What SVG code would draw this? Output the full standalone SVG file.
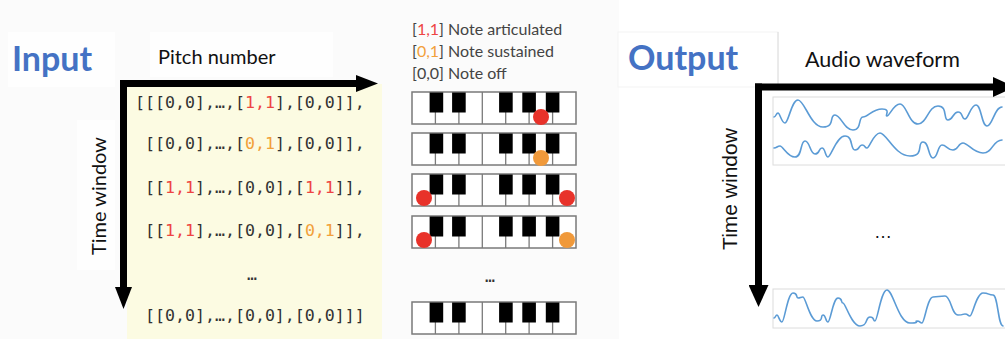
<svg xmlns="http://www.w3.org/2000/svg" width="1005" height="339" viewBox="0 0 1005 339">
<style>
.title{font-family:Lato,"Open Sans",sans-serif;font-weight:bold;font-size:34px;fill:#4472c4}
.axis{font-family:Lato,"Open Sans",sans-serif;font-size:20px;fill:#111}
.mono{font-family:"DejaVu Sans Mono","Liberation Mono",monospace;font-size:16.6px;fill:#333}
.legend{font-family:Lato,"Open Sans",sans-serif;font-size:16px;fill:#444}
.r{fill:#ee4444}
.o{fill:#f2a03a}
.wave{fill:none;stroke:#5b9bd5;stroke-width:1.6;stroke-linejoin:round;stroke-linecap:round}
.wbox{fill:#fff;stroke:#dcdcdc;stroke-width:1}
.arrow{fill:none;stroke:#000;stroke-width:7}
.dotR{fill:#e8322a}
.dotO{fill:#f0993a}
</style>
<defs>
<marker id="headS" markerUnits="userSpaceOnUse" markerWidth="22" markerHeight="17" viewBox="0 0 22 17" refX="1" refY="8.5" orient="auto"><path d="M0,0 L22,8.5 L0,17 Z" fill="#000"/></marker>
<marker id="headL" markerUnits="userSpaceOnUse" markerWidth="22" markerHeight="20" viewBox="0 0 22 20" refX="1" refY="10" orient="auto"><path d="M0,0 L22,10 L0,20 Z" fill="#000"/></marker>
<g id="piano">
<rect x="0" y="0" width="164" height="32" fill="#fff" stroke="#7a7a7a" stroke-width="1.5"/>
<g stroke="#7a7a7a" stroke-width="1.3">
<line x1="23.4" y1="20" x2="23.4" y2="32"/>
<line x1="46.9" y1="20" x2="46.9" y2="32"/>
<line x1="70.3" y1="0" x2="70.3" y2="32"/>
<line x1="93.7" y1="20" x2="93.7" y2="32"/>
<line x1="117.1" y1="20" x2="117.1" y2="32"/>
<line x1="140.6" y1="20" x2="140.6" y2="32"/>
</g>
<g fill="#000">
<rect x="17.6" y="0.5" width="13.6" height="20"/>
<rect x="40.1" y="0.5" width="13.6" height="20"/>
<rect x="87.1" y="0.5" width="13.6" height="20"/>
<rect x="110.3" y="0.5" width="13.6" height="20"/>
<rect x="133.8" y="0.5" width="13.6" height="20"/>
</g>
</g>
</defs>

<g id="background">
<rect x="0" y="0" width="1005" height="339" fill="#fff"/>
<rect x="0" y="0" width="619" height="339" fill="#fbfbfb"/>
<rect x="8" y="32" width="107" height="55" fill="#fefefe"/>
<rect x="150" y="32" width="183" height="45" fill="#fefefe"/>
<rect x="77" y="120" width="38" height="150" fill="#fefefe"/>
<rect x="618" y="32" width="160" height="55" fill="#fff" stroke="#f3f3f3"/>
<line x1="778" y1="32" x2="778" y2="84" stroke="#dcdcdc"/>
<rect x="127" y="84" width="255" height="255" fill="#fcfbe2"/>
</g>

<g id="input-title"><text class="title" x="12" y="71">Input</text></g>
<g id="pitch-label"><text class="axis" x="158" y="64">Pitch number</text></g>
<g id="time-label-in"><text class="axis" text-anchor="middle" transform="translate(106,196) rotate(-90)">Time window</text></g>

<g id="matrix">
<text class="mono" x="135" y="108">[[[0,0],…,[<tspan class="r">1,1</tspan>],[0,0]],</text>
<text class="mono" x="145" y="149">[[0,0],…,[<tspan class="o">0,1</tspan>],[0,0]],</text>
<text class="mono" x="145" y="193">[[<tspan class="r">1,1</tspan>],…,[0,0],[<tspan class="r">1,1</tspan>]],</text>
<text class="mono" x="145" y="236">[[<tspan class="r">1,1</tspan>],…,[0,0],[<tspan class="o">0,1</tspan>]],</text>
<text class="mono" x="252" y="280" text-anchor="middle">…</text>
<text class="mono" x="145" y="321">[[0,0],…,[0,0],[0,0]]]</text>
</g>

<g id="legend">
<text class="legend" x="412" y="35">[<tspan class="r">1,1</tspan>] Note articulated</text>
<text class="legend" x="412" y="57">[<tspan class="o">0,1</tspan>] Note sustained</text>
<text class="legend" x="412" y="79">[0,0] Note off</text>
</g>

<g id="piano1"><use href="#piano" x="412" y="92"/><circle class="dotR" cx="541" cy="117" r="8"/></g>
<g id="piano2"><use href="#piano" x="412" y="133"/><circle class="dotO" cx="541" cy="158" r="8"/></g>
<g id="piano3"><use href="#piano" x="412" y="174"/><circle class="dotR" cx="424" cy="198" r="8"/><circle class="dotR" cx="567" cy="198" r="8"/></g>
<g id="piano4"><use href="#piano" x="412" y="216"/><circle class="dotR" cx="424" cy="240" r="8"/><circle class="dotO" cx="567" cy="240" r="8"/></g>
<g id="piano-dots"><text class="mono" x="490" y="282" text-anchor="middle">…</text></g>
<g id="piano5"><use href="#piano" x="412" y="302"/></g>

<g id="output-title"><text class="title" x="628" y="70">Output</text></g>
<g id="audio-label"><text class="axis" x="805" y="67" style="font-size:21.5px">Audio waveform</text></g>
<g id="time-label-out"><text text-anchor="middle" transform="translate(737,189) rotate(-90)" style="font-family:'Liberation Sans',Arial,sans-serif;font-size:21px;fill:#111">Time window</text></g>

<g id="waveforms1">
<rect class="wbox" x="773" y="97" width="240" height="68"/>
<path class="wave" d="M774,117 C776,117 776,113 778,113 S781.5,123 785,123 S791.5,100 798,100 S810.5,127 823,127 S829,115 835,115 S844,130 853,130 S858,117 863,117 S872.5,109 882,109 S884.5,116 887,116 S893.5,104 900,104 S909,124 918,124 S928,106 938,106 S943,120 948,120 S953,112 958,112 S961.5,119 965,119 S970.5,105 976,105 S981.5,126 987,126 S994.5,107 1002,107"/>
<path class="wave" d="M774,148 C777,148 777,146 780,146 S787.5,157 795,157 S800,141 805,141 S810,154 815,154 S818.5,148 822,148 S825,157 828,157 S836.5,136 845,136 S850,150 855,150 S858.5,145 862,145 S864.5,148 867,148 S873.5,133 880,133 S895,156 910,156 S916.5,142 923,142 S928,158 933,158 S937.5,145 942,145 S947.5,150 953,150 S958,143 963,143 S973,153 983,153 S992.5,140 1002,140"/>
</g>
<g id="wave-dots"><text x="883" y="238" text-anchor="middle" style="font-family:'Liberation Sans',sans-serif;font-size:18px;fill:#111">…</text></g>
<g id="waveforms2">
<rect class="wbox" x="773" y="289" width="240" height="39"/>
<path class="wave" d="M774,318 C775.5,318 775.5,315 777,315 S779.5,322 782,322 S787.5,293 793,293 S795.5,298 798,298 S800.5,297 803,297 S810,321 817,321 S820,315 823,315 S825.5,322 828,322 S833,298 838,298 S840.5,303 843,303 S851.5,326 860,326 S865,317 870,317 S872.5,321 875,321 S881,290 887,290 S898.5,323 910,323 S913.5,321 917,321 S919.5,323 922,323 S927.5,297 933,297 S939,296 945,296 S951.5,315 958,315 S961.5,314 965,314 S967.5,316 970,316 S976.5,293 983,293 S988,295 993,295 S998,326 1003,326"/>
</g>

<g id="connectors">
<path class="arrow" d="M123.5,80 L123.5,288" marker-end="url(#headS)"/>
<path class="arrow" d="M120,83.5 L357,83.5" marker-end="url(#headS)"/>
<path class="arrow" d="M758.5,83.5 L758.5,286" marker-end="url(#headL)"/>
<path class="arrow" d="M755,87 L994,87" marker-end="url(#headL)"/>
</g>
</svg>
